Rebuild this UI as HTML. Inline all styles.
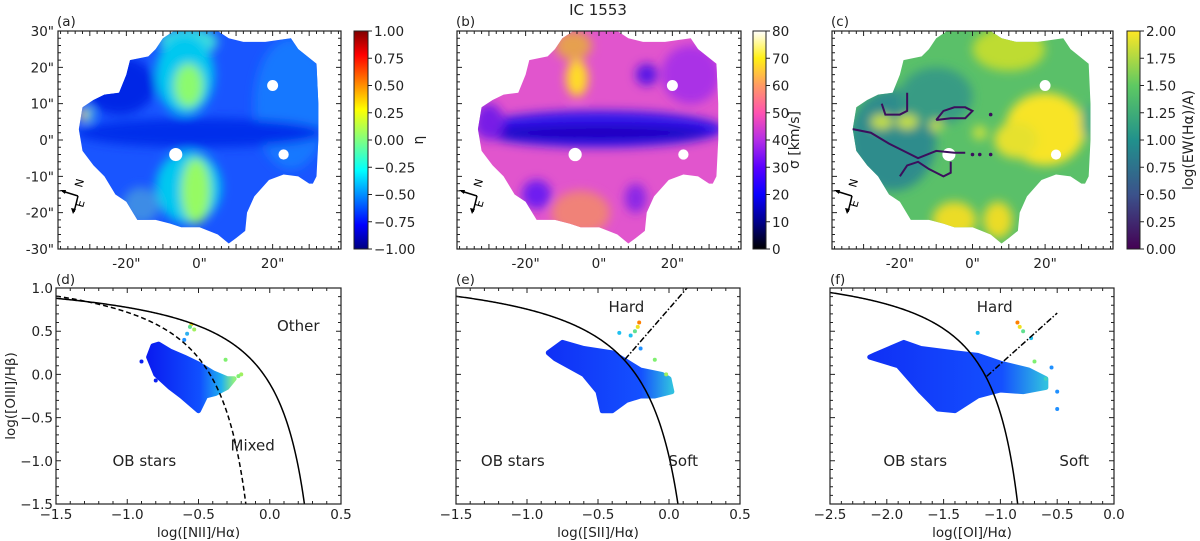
<!DOCTYPE html>
<html><head><meta charset="utf-8">
<style>
html,body{margin:0;padding:0;background:#fff;}
svg{display:block;font-family:"DejaVu Sans","Liberation Sans",sans-serif;}
</style></head>
<body>
<svg id="fig" width="1200" height="541" viewBox="0 0 1200 541" xmlns="http://www.w3.org/2000/svg">
<defs>
<filter id="blur" x="-20%" y="-20%" width="140%" height="140%"><feGaussianBlur stdDeviation="5"/></filter>
<linearGradient id="jet" x1="0" y1="1" x2="0" y2="0">
<stop offset="0" stop-color="#000080"/><stop offset="0.11" stop-color="#0000ff"/><stop offset="0.36" stop-color="#00ffff"/><stop offset="0.5" stop-color="#80ff80"/><stop offset="0.64" stop-color="#ffff00"/><stop offset="0.89" stop-color="#ff0000"/><stop offset="1" stop-color="#800000"/></linearGradient>
<linearGradient id="gp2" x1="0" y1="1" x2="0" y2="0">
<stop offset="0" stop-color="#000000"/><stop offset="0.125" stop-color="#00008c"/><stop offset="0.25" stop-color="#0a00ff"/><stop offset="0.375" stop-color="#5a00ff"/><stop offset="0.5" stop-color="#b42ee6"/><stop offset="0.625" stop-color="#ff52b0"/><stop offset="0.75" stop-color="#ff9a64"/><stop offset="0.875" stop-color="#fff014"/><stop offset="1" stop-color="#ffffff"/></linearGradient>
<linearGradient id="vir" x1="0" y1="1" x2="0" y2="0">
<stop offset="0" stop-color="#440154"/><stop offset="0.25" stop-color="#3b528b"/><stop offset="0.5" stop-color="#21918c"/><stop offset="0.75" stop-color="#5ec962"/><stop offset="1" stop-color="#fde725"/></linearGradient>
<linearGradient id="cloudD" x1="0" y1="0" x2="1" y2="0"><stop offset="0" stop-color="#0a1cf0"/><stop offset="0.6" stop-color="#1050ff"/><stop offset="0.85" stop-color="#20b0f0"/><stop offset="1" stop-color="#90f080"/></linearGradient>
<linearGradient id="cloudE" x1="0" y1="0" x2="1" y2="0"><stop offset="0" stop-color="#1030f5"/><stop offset="0.75" stop-color="#1450ff"/><stop offset="1" stop-color="#30c0e0"/></linearGradient>
</defs>
<g id="root"></g>
</svg>
<script>
// ---------- data ----------
const mapTicksY = [30,20,10,0,-10,-20,-30];
const mapTicksX = [-20,0,20];
const cbA = [-1.00,-0.75,-0.50,-0.25,0.00,0.25,0.50,0.75,1.00];
const cbB = [0,10,20,30,40,50,60,70,80];
const cbC = [0.00,0.25,0.50,0.75,1.00,1.25,1.50,1.75,2.00];
const outline = [[-33,3],[-32,9],[-29,11],[-26,12.5],[-22,13],[-20,18],[-19,22],[-14,23],[-12,25],[-10,28],[-7,30],[0,30],[5,30],[8,28],[12,27],[18,27],[25,28],[27,25],[32,21],[32.5,10],[32.5,0],[32,-10],[31,-12],[30,-12],[27,-10],[23,-9.5],[19,-11],[15,-15.5],[13,-20],[12.5,-25],[10,-27],[8,-28.5],[5,-26],[0,-24],[-5,-24],[-8,-23],[-12,-22],[-17,-22],[-20,-17],[-23,-15],[-26,-10],[-29,-7],[-32,-3]];
const holes = [[20,15,1.5],[-6.5,-4,1.8],[23,-4,1.4]];
const regA = [[25,10,10,18,'rgb(20,120,255)'],[-22,15,10,8,'rgb(0,40,230)'],[0,2,34,4,'rgb(0,45,235)'],[-3,27,8,4,'rgb(60,220,220)'],[-4,18,8,11,'rgb(0,200,240)'],[-3,15,4,6,'rgb(140,250,110)'],[-3,-13,9,10,'rgb(0,200,240)'],[-1,-14,4,9,'rgb(150,250,100)'],[-16,-18,5,5,'rgb(60,140,230)'],[-31,7,2,2,'rgb(80,220,220)'],[-32,7,1.2,1.2,'rgb(255,180,0)']];
const regB = [[0,3,34,5,'rgb(50,20,235)'],[0,2,30,2,'rgb(30,0,190)'],[-30,5,4,5,'rgb(120,30,230)'],[-7,26,5,4,'rgb(230,160,80)'],[-6,17,3,5,'rgb(255,220,40)'],[-5,-20,8,6,'rgb(240,130,120)'],[-17,-15,4,4,'rgb(110,30,240)'],[10,-16,3,4,'rgb(140,40,230)'],[25,18,8,8,'rgb(170,50,230)'],[13,18,3,3,'rgb(90,20,230)']];
const regC = [[-22,0,12,14,'rgb(45,140,140)'],[-10,12,10,8,'rgb(55,155,132)'],[20,3,11,10,'rgb(248,228,40)'],[12,0,6,5,'rgb(230,225,45)'],[10,25,10,6,'rgb(190,220,50)'],[-5,-22,6,5,'rgb(235,220,40)'],[7,-22,4,5,'rgb(235,220,40)'],[-25,5,3,2,'rgb(200,225,60)'],[-18,5,3,2,'rgb(200,225,60)'],[-10,4,2,1.5,'rgb(200,225,60)'],[2,2,2,2,'rgb(200,225,60)'],[32,5,2,5,'rgb(60,170,130)']];
const contours = [[[-33,3],[-28,2],[-23,-1],[-19,-3],[-15,-5],[-10,-3],[-5,-3.5],[-2,-3.5]],[[-20,-10],[-18,-7],[-15,-6],[-12,-8],[-8,-10],[-6,-9],[-6,-6]],[[-25,10],[-24,7],[-20,7],[-18,8],[-18,13]],[[-10,5.5],[-8,8],[-5,9],[-2,9],[0,8],[-2,6],[-6,6],[-10,5.5]]];
const bptYTicks = [-1.5,-1.0,-0.5,0.0,0.5,1.0];
const bptXTicksNS = [-1.5,-1.0,-0.5,0.0,0.5];
const bptXTicksO = [-2.5,-2.0,-1.5,-1.0,-0.5,0.0];
const cloudD = [[-0.82,0.33],[-0.78,0.35],[-0.7,0.27],[-0.6,0.2],[-0.5,0.12],[-0.4,0.02],[-0.3,-0.05],[-0.25,-0.05],[-0.3,-0.15],[-0.38,-0.22],[-0.45,-0.25],[-0.5,-0.42],[-0.55,-0.35],[-0.62,-0.25],[-0.7,-0.15],[-0.8,0.0],[-0.85,0.2]];
const outD = [[-0.55,0.58,'#f0d020'],[-0.53,0.52,'#a0f060'],[-0.56,0.55,'#60e090'],[-0.6,0.4,'#2090ff'],[-0.31,0.17,'#80f070'],[-0.2,0.0,'#a0f060'],[-0.22,-0.02,'#80f070'],[-0.9,0.15,'#0a20f0'],[-0.8,-0.07,'#0a20f0'],[-0.58,0.47,'#30b0f0']];
const cloudE = [[-0.85,0.25],[-0.75,0.37],[-0.6,0.3],[-0.4,0.25],[-0.3,0.15],[-0.2,0.05],[-0.05,0.0],[0.0,-0.05],[0.02,-0.2],[-0.1,-0.25],[-0.2,-0.25],[-0.3,-0.3],[-0.4,-0.42],[-0.47,-0.42],[-0.5,-0.2],[-0.6,0.0],[-0.8,0.18]];
const outE = [[-0.21,0.6,'#ff8000'],[-0.22,0.55,'#f0e020'],[-0.24,0.5,'#60e090'],[-0.27,0.45,'#20c0f0'],[-0.35,0.48,'#20c0f0'],[-0.1,0.17,'#80f070'],[-0.02,0.0,'#a0f060'],[-0.2,0.3,'#2090ff']];
const cloudF = [[-2.1,0.23],[-1.85,0.37],[-1.7,0.3],[-1.4,0.25],[-1.2,0.22],[-1.0,0.13],[-0.75,0.05],[-0.6,-0.05],[-0.6,-0.15],[-0.8,-0.2],[-1.0,-0.18],[-1.2,-0.25],[-1.4,-0.42],[-1.55,-0.4],[-1.7,-0.2],[-1.9,0.1],[-2.15,0.2]];
const outF = [[-0.85,0.6,'#ff8000'],[-0.83,0.55,'#f0e020'],[-0.8,0.5,'#60e090'],[-0.73,0.42,'#20c0f0'],[-0.7,0.15,'#80f070'],[-0.55,0.08,'#2090ff'],[-0.5,-0.2,'#2090ff'],[-0.5,-0.4,'#2090ff'],[-1.2,0.48,'#20c0f0'],[-0.6,-0.05,'#40d0c0']];

// ---------- helpers ----------
const NS='http://www.w3.org/2000/svg';
const root=document.getElementById('root');
function mk(tag,attrs,parent,txt){const e=document.createElementNS(NS,tag);for(const k in attrs)e.setAttribute(k,attrs[k]);if(txt!==undefined)e.textContent=txt;(parent||root).appendChild(e);return e;}
const MT=31, MB=249;
function mapPanel(x0,x1,regs,base,showHoles,letter,cid){
  const g=mk('g',{});
  
  
  const sx=x=>x0+(x+38.7)/77.4*(x1-x0), sy=y=>MT+(30-y)/60*(MB-MT), s=(x1-x0)/77.4;
  const cp=mk('clipPath',{id:cid},g);
  mk('polygon',{points:outline.map(p=>sx(p[0])+','+sy(p[1])).join(' ')},cp);
  const body=mk('g',{'clip-path':'url(#'+cid+')'},g);
  
  
  mk('rect',{x:x0,y:MT,width:x1-x0,height:MB-MT,fill:base},body);
  const bl=mk('g',{filter:'url(#blur)'},body);
  regs.forEach(r=>mk('ellipse',{cx:sx(r[0]),cy:sy(r[1]),rx:r[2]*s,ry:r[3]*s,fill:r[4]},bl));
  if(showHoles) holes.forEach(h=>mk('circle',{cx:sx(h[0]),cy:sy(h[1]),r:h[2]*s,fill:'#fff'},body));
  return {g,sx,sy};
}
function frameTicks(g,x0,x1,y0,y1,xMaj,xMin,yMaj,yMin){
  mk('rect',{x:x0,y:y0,width:x1-x0,height:y1-y0,fill:'none',stroke:'#222','stroke-width':1.2},g);
  let d='';
  xMaj.forEach(x=>{d+=`M${x},${y1}v-5M${x},${y0}v5`;});
  xMin.forEach(x=>{d+=`M${x},${y1}v-3M${x},${y0}v3`;});
  yMaj.forEach(y=>{d+=`M${x0},${y}h5M${x1},${y}h-5`;});
  yMin.forEach(y=>{d+=`M${x0},${y}h3M${x1},${y}h-3`;});
  mk('path',{d,stroke:'#222','stroke-width':1,fill:'none'},g);
}
function range(a,b,st){const r=[];for(let v=a;v<=b+1e-9;v+=st)r.push(+v.toFixed(4));return r;}
function compass(g,x,y){
  mk('path',{d:`M${x},${y}L${x-16},${y-5}M${x},${y}L${x-4},${y+16}`,stroke:'#000','stroke-width':1.5,fill:'none'},g);
  mk('polygon',{points:`${x-18},${y-6} ${x-12},${y-6} ${x-13},${y-2}`,fill:'#000'},g);
  mk('polygon',{points:`${x-5},${y+18} ${x-7},${y+12} ${x-2},${y+13}`,fill:'#000'},g);
  mk('text',{x:x+4,y:y-8,'font-size':11,transform:`rotate(-75 ${x+4} ${y-8})`,fill:'#000'},g,'N');
  mk('text',{x:x+5,y:y+12,'font-size':11,transform:`rotate(-75 ${x+5} ${y+12})`,fill:'#000'},g,'E');
}
function colorbar(x0,x1,grad,ticks,fmt,label,name){
  const g=mk('g',{});
  
  
  mk('rect',{x:x0,y:MT,width:x1-x0,height:MB-MT,fill:'url(#'+grad+')',stroke:'#222','stroke-width':1},g);
  const lo=ticks[0],hi=ticks[ticks.length-1];
  ticks.forEach(t=>{const y=MB-(t-lo)/(hi-lo)*(MB-MT);
    mk('line',{x1:x1,x2:x1+4,y1:y,y2:y,stroke:'#222'},g);
    const tx=mk('text',{x:x1+6,y:y+5,'font-size':13.5,fill:'#222'},g,fmt(t).replace('-','\u2212'));
    
    });
  const lx=x1+(grad==='vir'?53:(grad==='gp2'?33:55)), ly=(MT+MB)/2;
  const lt=mk('text',{x:lx,y:ly,'font-size':14,'text-anchor':'middle',transform:`rotate(-90 ${lx} ${ly})`,fill:'#222'},g,label);
  
  
}

// ---------- title ----------
const title=mk('text',{x:598,y:15,'font-size':15,'text-anchor':'middle',fill:'#222'},root,'IC 1553');



// ---------- maps ----------
const maps=[[58,341,regA,'rgb(25,85,255)',true,'a','clA'],[457,741,regB,'rgb(225,85,205)',true,'b','clB'],[832,1113,regC,'rgb(90,192,105)',true,'c','clC']];
maps.forEach((m,i)=>{
  const p=mapPanel(m[0],m[1],m[2],m[3],m[4],m[5],m[6]);
  if(m[5]==='c'){
    contours.forEach(c=>{const l=mk('polyline',{points:c.map(q=>p.sx(q[0])+','+p.sy(q[1])).join(' '),fill:'none',stroke:'#3b0f5c','stroke-width':2},p.g);
      
      });
    [[0,-4],[2,-4],[5,-4],[5,7]].forEach(q=>mk('circle',{cx:p.sx(q[0]),cy:p.sy(q[1]),r:1.8,fill:'#3b0f5c'},p.g));
  }
  const xMaj=mapTicksX.map(p.sx), xMin=range(-38,38,2).map(p.sx);
  const yMaj=range(-30,30,10).map(p.sy), yMin=range(-30,30,2).map(p.sy);
  frameTicks(p.g,m[0],m[1],MT,MB,[...xMaj,p.sx(-30),p.sx(-10),p.sx(10),p.sx(30)],xMin,yMaj,yMin);
  compass(p.g,m[0]+20,MT+165);
  const lab=mk('text',{x:m[0]-1,y:MT-5,'font-size':13.5,fill:'#222'},p.g,'('+m[5]+')');
  
  
  mapTicksX.forEach(t=>{const tx=mk('text',{x:p.sx(t),y:MB+19,'font-size':13.5,'text-anchor':'middle',fill:'#222'},p.g,t+'"');
    
    });
  if(i===0) mapTicksY.forEach(t=>{const tx=mk('text',{x:m[0]-4,y:p.sy(t)+5,'font-size':13.5,'text-anchor':'end',fill:'#222'},p.g,t+'"');
    
    });
});
colorbar(354,368,'jet',cbA,t=>t.toFixed(2),'\u03b7','colorbar-eta');
colorbar(753,766,'gp2',cbB,t=>String(t),'\u03c3 [km/s]','colorbar-sigma');
colorbar(1127,1140,'vir',cbC,t=>t.toFixed(2),'log(EW(H\u03b1)/A)','colorbar-ew');

// ---------- BPT ----------
const BT=288, BB=504;
function bpt(x0,x1,xmin,xmax,xt,cloud,grad,outs,curves,labels,xlabel,letter,showY){
  const g=mk('g',{});
  
  
  const sx=x=>x0+(x-xmin)/(xmax-xmin)*(x1-x0), sy=y=>BT+(1.0-y)/2.5*(BB-BT);
  const cid='bc'+letter;
  const cp=mk('clipPath',{id:cid},g); mk('rect',{x:x0,y:BT,width:x1-x0,height:BB-BT},cp);
  const cl=mk('polygon',{points:cloud.map(p=>sx(p[0])+','+sy(p[1])).join(' '),fill:'url(#'+grad+')',stroke:'url(#'+grad+')','stroke-width':5,'stroke-linejoin':'round'},g);
  
  
  outs.forEach(o=>{const c=mk('circle',{cx:sx(o[0]),cy:sy(o[1]),r:2,fill:o[2]},g);
    
    });
  const cg=mk('g',{'clip-path':'url(#'+cid+')'},g);
  curves.forEach(c=>{const pts=[];
    for(let i=0;i<=300;i++){const x=c.a+(c.b-c.a)*i/300;const y=c.f(x);if(y<-2||y>2)continue;pts.push(sx(x)+','+sy(y));}
    const l=mk('polyline',{points:pts.join(' '),fill:'none',stroke:'#000','stroke-width':1.5,'stroke-dasharray':c.dash||'none'},cg);
    
    });
  frameTicks(g,x0,x1,BT,BB,xt.map(sx),range(xmin,xmax,0.1).map(sx),bptYTicks.map(sy),range(-1.5,1.0,0.1).map(sy));
  xt.map(t=>{const tx=mk('text',{x:sx(t),y:BB+15,'font-size':13.5,'text-anchor':'middle',fill:'#222'},g,t.toFixed(1).replace('-','\u2212'));
    
    });
  if(showY) bptYTicks.forEach(t=>{const tx=mk('text',{x:x0-3,y:sy(t)+5,'font-size':13.5,'text-anchor':'end',fill:'#222'},g,t.toFixed(1).replace('-','\u2212'));
    
    });
  labels.forEach(l=>{const tx=mk('text',{x:sx(l[1]),y:sy(l[2]),'font-size':15,'text-anchor':'middle',fill:'#222'},g,l[0]);
    
    });
  const xl=mk('text',{x:(x0+x1)/2,y:BB+33,'font-size':13.5,'text-anchor':'middle',fill:'#222'},g,xlabel);
  
  
  const pl=mk('text',{x:x0,y:BT-4,'font-size':13.5,fill:'#222'},g,'('+letter+')');
  
  
}
bpt(56,341,-1.5,0.5,bptXTicksNS,cloudD,'cloudD',outD,
 [{a:-1.5,b:0.46,f:x=>0.61/(x-0.47)+1.19,name:'kewley-line'},{a:-1.5,b:0.04,f:x=>0.61/(x-0.05)+1.3,dash:'5,3',name:'kauffmann-line'}],
 [['Other',0.2,0.5],['OB stars',-0.88,-1.06],['Mixed',-0.12,-0.88]],'log([NII]/H\u03b1)','d',true);
bpt(456,740,-1.5,0.5,bptXTicksNS,cloudE,'cloudE',outE,
 [{a:-1.5,b:0.31,f:x=>0.72/(x-0.32)+1.30,name:'kewley-line'},{a:-0.31,b:0.14,f:x=>1.89*x+0.76,dash:'6,2,1.5,2',name:'seyfert-liner-line'}],
 [['Hard',-0.3,0.72],['OB stars',-1.1,-1.06],['Soft',0.1,-1.06]],'log([SII]/H\u03b1)','e',false);
bpt(830,1114,-2.5,0.0,bptXTicksO,cloudF,'cloudE',outF,
 [{a:-2.5,b:-0.6,f:x=>0.73/(x+0.59)+1.33,name:'kewley-line'},{a:-1.12,b:-0.5,f:x=>1.18*x+1.30,dash:'6,2,1.5,2',name:'seyfert-liner-line'}],
 [['Hard',-1.05,0.72],['OB stars',-1.75,-1.06],['Soft',-0.35,-1.06]],'log([OI]/H\u03b1)','f',false);
const yl=mk('text',{x:15,y:396,'font-size':13.5,'text-anchor':'middle',transform:'rotate(-90 15 396)',fill:'#222'},root,'log([OIII]/H\u03b2)');


</script>
</body></html>
